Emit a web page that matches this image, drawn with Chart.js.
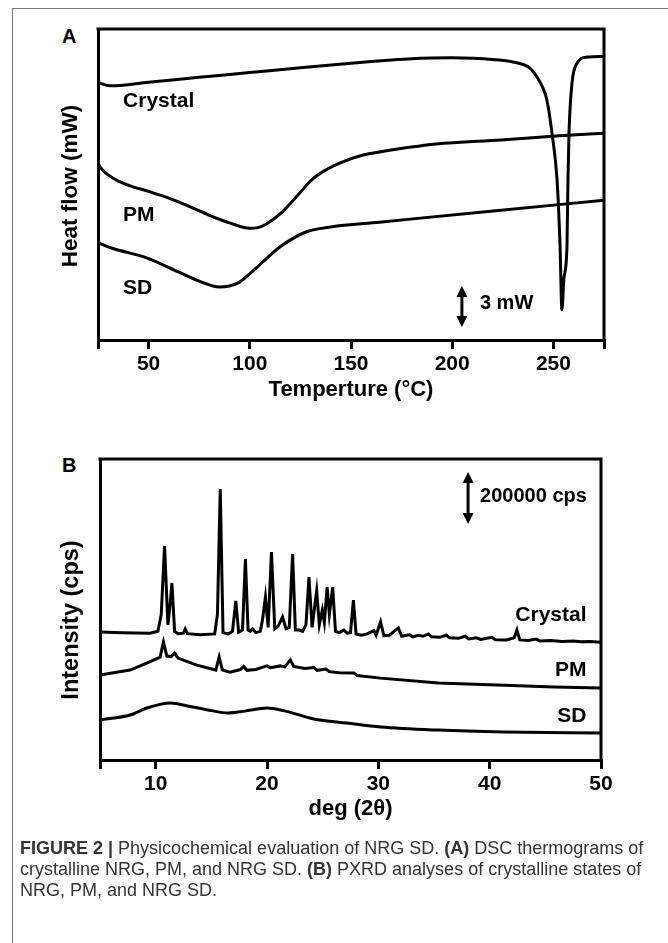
<!DOCTYPE html>
<html>
<head>
<meta charset="utf-8">
<script src="https://cdn.jsdelivr.net/npm/chart.js@4.4.1/dist/chart.umd.min.js"></script>
<style>
  body { margin: 0; width: 668px; height: 943px; background: #fff; position: relative; overflow: hidden; }
  .frame { position: absolute; left: 12px; top: 8px; width: 800px; height: 1100px; border-left: 1px solid #777; border-top: 1px solid #777; }
  .letter { position: absolute; left: 62px; font: bold 20px "Liberation Sans", Arial, sans-serif; line-height: 20px; color: #000; }
  canvas { position: absolute; left: 0; }
  #caption { position: absolute; left: 20px; top: 838px; font: 18px "Liberation Sans", Arial, sans-serif; line-height: 21px; color: #333; white-space: nowrap; }
</style>
</head>
<body>
<div class="frame"></div>
<div class="letter" style="top:26px">A</div>
<div class="letter" style="top:455px">B</div>
<canvas id="dsc" width="668" height="420" style="top:0"></canvas>
<canvas id="xrd" width="668" height="420" style="top:420px"></canvas>
<div id="caption"><b>FIGURE 2 |</b> Physicochemical evaluation of NRG SD. <b>(A)</b> DSC thermograms of<br>crystalline NRG, PM, and NRG SD. <b>(B)</b> PXRD analyses of crystalline states of<br>NRG, PM, and NRG SD.</div>
<script>
// DSC (panel A) - temperature in °C, heat flow in mW (offset traces)
const dscCrystalT = [25, 31, 50, 75, 100, 125, 150, 160, 170, 180, 190, 200, 210, 220, 230, 238.4, 241.9, 244.5, 246.8, 249.3, 251.8, 253.3, 254.2, 255.2, 256.7, 257.2, 257.7, 259.2, 261.7, 266.6, 275];
const dscCrystalMW = [18.8, 18.55, 18.82, 19.17, 19.52, 19.87, 20.2, 20.33, 20.44, 20.53, 20.58, 20.6, 20.57, 20.48, 20.29, 19.85, 19.2, 18.5, 17.5, 15.1, 11.7, 6.8, 2.2, 4.5, 6.8, 11.7, 15.1, 18.75, 20.2, 20.65, 20.7];
const dscPmT = [25, 27, 30, 35, 42, 50, 60, 70, 80, 88, 95, 100, 104, 108, 115, 123, 131, 138, 145, 156, 164, 192, 224, 253, 275];
const dscPmMW = [12.9, 12.45, 12.05, 11.6, 11.2, 10.85, 10.35, 9.75, 9.1, 8.65, 8.3, 8.15, 8.2, 8.45, 9.2, 10.45, 11.75, 12.45, 12.95, 13.5, 13.72, 14.3, 14.6, 14.9, 15.1];
const dscSdT = [25, 32, 49, 65, 75, 85, 94, 102, 115, 128, 140, 164, 219, 275];
const dscSdMW = [7.1, 6.7, 6.0, 4.95, 4.3, 3.87, 4.15, 5.1, 6.8, 7.9, 8.25, 8.6, 9.4, 10.2];
const dscTicks = [25, 50, 100, 150, 200, 250, 275];

// PXRD (panel B) - 2theta in deg, intensity in cps (offset traces)
const xrdCrystalDeg = [5, 7, 9.5, 10.2, 10.5, 10.8, 11.1, 11.3, 11.46, 11.7, 12.0, 12.5, 12.66, 12.85, 14, 15.3, 15.55, 15.8, 16.05, 16.5,
  16.9, 17.2, 17.45, 17.8, 18.06, 18.3, 18.5, 18.7, 19.0, 19.4, 19.6, 19.86, 20.1, 20.4, 20.7, 21.0, 21.4, 21.7, 22.0, 22.3,
  22.55, 22.9, 23.2, 23.5, 23.77, 24.05, 24.46, 24.7, 24.97, 25.15, 25.4, 25.6, 25.9, 26.15, 26.5, 26.9, 27.2, 27.5, 27.76, 28.0,
  28.5, 29.0, 29.6, 29.8, 30.2, 30.5, 31.0, 31.8, 32.1, 32.8, 33.1, 33.6, 34.0, 34.5, 34.8, 35.5, 36.1, 36.4, 37.2, 37.8,
  38.1, 38.8, 39.2, 40.2, 40.5, 41.5, 42.2, 42.45, 42.7, 43.5, 44.2, 44.5, 45.5, 46.5, 47.5, 48.2, 49, 50];
const xrdCrystalCps = [492000, 490000, 488000, 495000, 560000, 823000, 520000, 600000, 681000, 495000, 486000, 488000, 504000, 486000, 482000, 485000, 560000, 1042000, 490000, 485000,
  495000, 612000, 492000, 500000, 773000, 500000, 495000, 505000, 490000, 495000, 540000, 627000, 510000, 800000, 505000, 515000, 550000, 505000, 510000, 792000,
  500000, 500000, 495000, 520000, 704000, 510000, 650000, 520000, 577000, 530000, 665000, 560000, 665000, 495000, 490000, 500000, 488000, 490000, 615000, 485000,
  480000, 485000, 498000, 480000, 531000, 478000, 480000, 508000, 476000, 482000, 474000, 480000, 476000, 485000, 474000, 472000, 480000, 470000, 468000, 476000,
  466000, 470000, 464000, 472000, 463000, 462000, 470000, 500000, 462000, 460000, 465000, 458000, 460000, 456000, 458000, 455000, 456000, 453000];
const xrdPmDeg = [5, 7.7, 9.2, 10.4, 10.7, 11.0, 11.4, 11.7, 12.0, 13.7, 15.4, 15.7, 16.0, 16.7, 17.6, 17.9, 18.2, 19.0, 19.7, 20.0,
  20.3, 21.2, 21.6, 22.1, 22.4, 23.4, 24.2, 24.5, 25.3, 25.6, 26.5, 27.8, 28.1, 30.2, 35.4, 41.3, 45.8, 50];
const xrdPmCps = [327000, 346000, 373000, 396000, 454000, 400000, 398000, 412000, 392000, 365000, 346000, 396000, 346000, 338000, 348000, 360000, 345000, 348000, 358000, 362000,
  355000, 362000, 358000, 385000, 360000, 352000, 356000, 345000, 350000, 340000, 336000, 335000, 325000, 315000, 296000, 288000, 281000, 277000];
const xrdSdDeg = [5, 7.7, 9.2, 10.5, 11.3, 13.1, 15, 16.5, 18, 20, 21.5, 24.2, 27.2, 30.2, 35.4, 41.3, 50];
const xrdSdCps = [154000, 173000, 200000, 215000, 219000, 206000, 190000, 181000, 188000, 200000, 190000, 158000, 142000, 127000, 115000, 108000, 104000];
const xrdTicks = [5, 10, 20, 30, 40, 50];

const FAMILY = '"Liberation Sans", Arial, sans-serif';
const boldFont = (size) => ({ family: FAMILY, size: size, weight: 'bold' });

function pts(xs, ys) {
  return xs.map((x, i) => ({ x: x, y: ys[i] }));
}

function trace(xs, ys, smooth) {
  return {
    data: pts(xs, ys),
    showLine: true,
    borderColor: '#000',
    borderWidth: 3,
    pointRadius: 0,
    fill: false,
    tension: 0,
    cubicInterpolationMode: smooth ? 'monotone' : 'default',
  };
}

// frame, y title, trace labels and scale-bar arrow
function notesPlugin(notes) {
  return {
    id: 'notes',
    afterDraw(chart) {
      const { ctx, chartArea: a } = chart;
      const xs = chart.scales.x, ys = chart.scales.y;
      ctx.save();
      ctx.strokeStyle = '#000';
      ctx.lineWidth = 3;
      ctx.lineCap = 'square';
      ctx.beginPath();
      ctx.moveTo(a.left, a.top);
      ctx.lineTo(a.right, a.top);
      ctx.lineTo(a.right, a.bottom);
      ctx.stroke();

      ctx.fillStyle = '#000';
      ctx.textBaseline = 'middle';
      ctx.textAlign = 'center';
      ctx.save();
      ctx.translate(notes.yTitle.x, notes.yTitle.y);
      ctx.rotate(-Math.PI / 2);
      ctx.font = 'bold ' + notes.yTitle.size + 'px ' + FAMILY;
      ctx.fillText(notes.yTitle.text, 0, 0);
      ctx.restore();

      notes.labels.forEach((l) => {
        ctx.font = 'bold ' + l.size + 'px ' + FAMILY;
        ctx.textAlign = l.align;
        ctx.fillText(l.text, xs.getPixelForValue(l.x), ys.getPixelForValue(l.y));
      });

      const ax = xs.getPixelForValue(notes.arrow.x);
      const top = ys.getPixelForValue(notes.arrow.to);
      const bot = ys.getPixelForValue(notes.arrow.from);
      ctx.lineCap = 'butt';
      ctx.beginPath();
      ctx.moveTo(ax, top + 8);
      ctx.lineTo(ax, bot - 8);
      ctx.stroke();
      ctx.beginPath();
      ctx.moveTo(ax, top);
      ctx.lineTo(ax - 5.5, top + 11);
      ctx.lineTo(ax + 5.5, top + 11);
      ctx.closePath();
      ctx.moveTo(ax, bot);
      ctx.lineTo(ax - 5.5, bot - 11);
      ctx.lineTo(ax + 5.5, bot - 11);
      ctx.closePath();
      ctx.fill();
      ctx.restore();
    },
  };
}

function makeChart(id, datasets, cfg) {
  return new Chart(document.getElementById(id), {
    type: 'scatter',
    data: { datasets: datasets },
    options: {
      responsive: false,
      animation: false,
      devicePixelRatio: 1,
      layout: { padding: { top: cfg.padTop, right: cfg.padRight, bottom: 0, left: 0 } },
      plugins: { legend: { display: false }, tooltip: { enabled: false } },
      scales: {
        x: {
          type: 'linear',
          min: cfg.xMin,
          max: cfg.xMax,
          afterBuildTicks: (s) => { s.ticks = cfg.ticks.map((v) => ({ value: v })); },
          afterFit: (s) => { s.height = cfg.xHeight; },
          grid: { drawOnChartArea: false, drawTicks: true, tickLength: 9, lineWidth: 3, tickWidth: 3, tickColor: '#000', color: '#000' },
          border: { display: true, color: '#000', width: 3 },
          ticks: {
            color: '#000', font: boldFont(21), padding: 3, maxRotation: 0, autoSkip: false,
            callback: (v) => (cfg.hidden.includes(v) ? '' : v),
          },
          title: { display: true, text: cfg.xTitle, color: '#000', font: boldFont(22), padding: { top: 0, bottom: cfg.xTitlePad } },
        },
        y: {
          type: 'linear',
          min: cfg.yMin,
          max: cfg.yMax,
          afterFit: (s) => { s.width = cfg.yWidth; },
          grid: { display: false },
          border: { display: true, color: '#000', width: 3 },
          ticks: { display: false },
          title: { display: false },
        },
      },
    },
    plugins: [notesPlugin(cfg.notes)],
  });
}

makeChart('dsc', [
  trace(dscCrystalT, dscCrystalMW, true),
  trace(dscPmT, dscPmMW, true),
  trace(dscSdT, dscSdMW, true),
], {
  padTop: 29, padRight: 64, xHeight: 80, yWidth: 98,
  xMin: 25, xMax: 275, yMin: 0, yMax: 22.7,
  ticks: dscTicks, hidden: [25, 275],
  xTitle: 'Temperture (°C)', xTitlePad: 17,
  notes: {
    yTitle: { text: 'Heat flow (mW)', x: 71, y: 186, size: 22.5 },
    labels: [
      { text: 'Crystal', x: 37.4, y: 17.45, align: 'left', size: 21 },
      { text: 'PM', x: 37.4, y: 9.12, align: 'left', size: 21 },
      { text: 'SD', x: 37.4, y: 3.8, align: 'left', size: 21 },
      { text: '3 mW', x: 213.7, y: 2.63, align: 'left', size: 20 },
    ],
    arrow: { x: 204.8, from: 0.95, to: 3.95 },
  },
});

makeChart('xrd', [
  trace(xrdCrystalDeg, xrdCrystalCps, false),
  trace(xrdPmDeg, xrdPmCps, false),
  trace(xrdSdDeg, xrdSdCps, true),
], {
  padTop: 39, padRight: 67, xHeight: 80, yWidth: 100,
  xMin: 5, xMax: 50, yMin: 0, yMax: 1158000,
  ticks: xrdTicks, hidden: [5],
  xTitle: 'deg (2θ)', xTitlePad: 18,
  notes: {
    yTitle: { text: 'Intensity (cps)', x: 72 - 0, y: 620 - 420, size: 23.5 },
    labels: [
      { text: 'Crystal', x: 48.7, y: 558000, align: 'right', size: 21 },
      { text: 'PM', x: 48.7, y: 346000, align: 'right', size: 21 },
      { text: 'SD', x: 48.7, y: 169000, align: 'right', size: 21 },
      { text: '200000 cps', x: 39.14, y: 1015000, align: 'left', size: 20 },
    ],
    arrow: { x: 38.06, from: 908000, to: 1108000 },
  },
});
</script>
</body>
</html>
